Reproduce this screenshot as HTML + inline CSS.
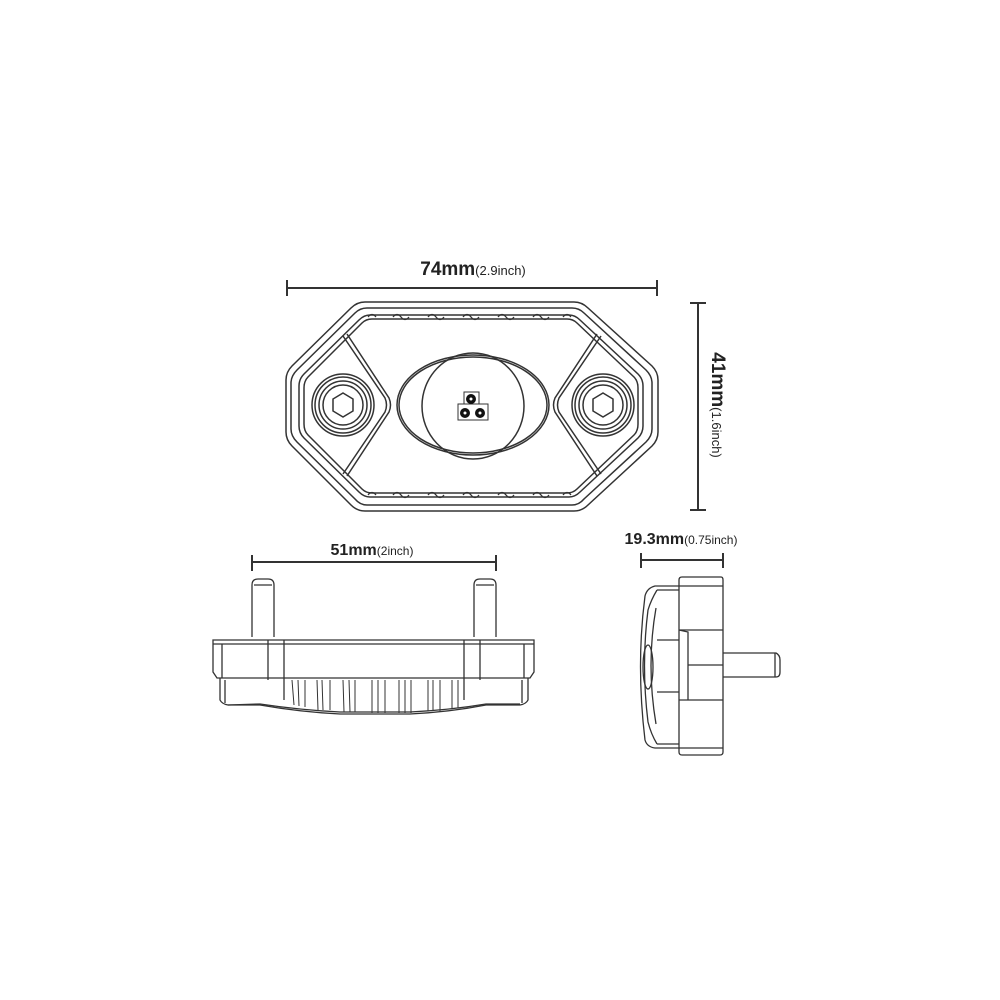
<!DOCTYPE html>
<html><head><style>
html,body{margin:0;padding:0;background:#fff;}
svg{display:block;}
text{font-family:"Liberation Sans",sans-serif;fill:#222;}
</style></head><body>
<svg width="1000" height="1000" viewBox="0 0 1000 1000" xmlns="http://www.w3.org/2000/svg">
<g fill="none" stroke="#333" stroke-width="1.5">
<!-- Top dimension -->
<line x1="287" y1="288" x2="657" y2="288" stroke-width="2"/>
<line x1="287" y1="280" x2="287" y2="296" stroke-width="2"/>
<line x1="657" y1="280" x2="657" y2="296" stroke-width="2"/>
<!-- right dimension -->
<line x1="698" y1="303" x2="698" y2="510" stroke-width="2"/>
<line x1="690" y1="303" x2="706" y2="303" stroke-width="2"/>
<line x1="690" y1="510" x2="706" y2="510" stroke-width="2"/>

<!-- Octagon outlines -->
<path d="M365,302 L574,302 Q582,302 588,308 L652,366 Q658,372 658,380 L658,432 Q658,440 652,446 L588,505 Q582,511 574,511 L365,511 Q357,511 351,505 L292,446 Q286,440 286,432 L286,380 Q286,372 292,366 L351,308 Q357,302 365,302 Z"/>
<path d="M367,308 L572,308 Q579,308 584,313 L646,370 Q652,376 652,383 L652,429 Q652,436 646,442 L584,499 Q579,505 572,505 L367,505 Q360,505 355,499 L297,442 Q291,436 291,429 L291,383 Q291,376 297,370 L355,313 Q360,308 367,308 Z"/>
<path d="M370,315 L569,315 Q575,315 580,320 L638,374 Q643,379 643,386 L643,426 Q643,433 638,438 L580,492 Q575,497 569,497 L370,497 Q364,497 359,492 L304,438 Q299,433 299,426 L299,386 Q299,379 304,374 L359,320 Q364,315 370,315 Z"/>
<path d="M372,319 L567,319 Q573,319 577,323 L634,377 Q638,381 638,388 L638,424 Q638,431 634,435 L577,489 Q573,493 567,493 L372,493 Q366,493 362,489 L308,435 Q304,431 304,424 L304,388 Q304,381 308,377 L362,323 Q366,319 372,319 Z"/>
<!-- bumps top/bottom -->
<g stroke-width="1.3">
<path d="M393,317 q4,-5 8,0 q4,5 8,0 M428,317 q4,-5 8,0 q4,5 8,0 M463,317 q4,-5 8,0 q4,5 8,0 M498,317 q4,-5 8,0 q4,5 8,0 M533,317 q4,-5 8,0 q4,5 8,0 M368,317 q4,-5 8,0 M563,317 q4,-5 8,0"/>
<path d="M393,495 q4,-5 8,0 q4,5 8,0 M428,495 q4,-5 8,0 q4,5 8,0 M463,495 q4,-5 8,0 q4,5 8,0 M498,495 q4,-5 8,0 q4,5 8,0 M533,495 q4,-5 8,0 q4,5 8,0 M368,495 q4,-5 8,0 M563,495 q4,-5 8,0"/>
</g>
<!-- diagonal ribs -->
<path d="M343,336 L385,398 Q388,405 385,412 L343,474"/>
<path d="M347,334 L389,398 Q392,405 389,412 L347,476"/>
<path d="M601,336 L559,398 Q556,405 559,412 L601,474"/>
<path d="M597,334 L555,398 Q552,405 555,412 L597,476"/>
<!-- screws -->
<circle cx="343" cy="405" r="31"/><circle cx="343" cy="405" r="28"/><circle cx="343" cy="405" r="24"/><circle cx="343" cy="405" r="20"/>
<polygon points="343,393 353,399 353,411 343,417 333,411 333,399"/>
<circle cx="603" cy="405" r="31"/><circle cx="603" cy="405" r="28"/><circle cx="603" cy="405" r="24"/><circle cx="603" cy="405" r="20"/>
<polygon points="603,393 613,399 613,411 603,417 593,411 593,399"/>
<!-- center lens -->
<ellipse cx="473" cy="405" rx="76" ry="50"/>
<ellipse cx="473" cy="405" rx="74" ry="48"/>
<ellipse cx="473" cy="406" rx="51" ry="53"/>
<rect x="464" y="392" width="15" height="12" stroke-width="1"/>
<rect x="458" y="404" width="30" height="16" stroke-width="1"/>
</g>
<g fill="#111">
<circle cx="471" cy="399" r="5"/><circle cx="465" cy="413" r="5"/><circle cx="480" cy="413" r="5"/>
</g>
<g fill="#fff"><circle cx="471" cy="399" r="1.5"/><circle cx="465" cy="413" r="1.5"/><circle cx="480" cy="413" r="1.5"/></g>

<text x="473" y="275" text-anchor="middle" font-size="19" font-weight="bold">74mm<tspan font-size="13" font-weight="normal">(2.9inch)</tspan></text>
<text transform="translate(712,405) rotate(90)" text-anchor="middle" font-size="19" font-weight="bold">41mm<tspan font-size="13" font-weight="normal">(1.6inch)</tspan></text>

<!-- side view -->
<g fill="none" stroke="#333" stroke-width="1.3">
<line x1="252" y1="562" x2="496" y2="562" stroke-width="2"/>
<line x1="252" y1="555" x2="252" y2="571" stroke-width="2"/>
<line x1="496" y1="555" x2="496" y2="571" stroke-width="2"/>
<path d="M252,637 L252,585 Q252,579 258,579 L268,579 Q274,579 274,585 L274,637"/>
<line x1="254" y1="585" x2="272" y2="585"/>
<path d="M474,637 L474,585 Q474,579 480,579 L490,579 Q496,579 496,585 L496,637"/>
<line x1="476" y1="585" x2="494" y2="585"/>
<path d="M215,640 L534,640 L534,672 L530,678 L217,678 L213,672 L213,640 Z"/>
<line x1="213" y1="644" x2="534" y2="644"/>
<line x1="222" y1="644" x2="222" y2="678"/><line x1="524" y1="644" x2="524" y2="678"/>
<line x1="268" y1="640" x2="268" y2="680"/><line x1="284" y1="640" x2="284" y2="700"/>
<line x1="464" y1="640" x2="464" y2="700"/><line x1="480" y1="640" x2="480" y2="680"/>
<path d="M220,678 L220,700 Q222,704 228,705 L260,705 Q300,712 340,714 L410,714 Q450,712 486,705 L520,705 Q526,704 528,700 L528,678"/>
<path d="M225,680 L225,703 M522,680 L522,703"/>
<path d="M228,705 L260,704 Q300,710 340,712 L410,712 Q450,710 486,704 L520,704"/>
<g stroke-width="1">
<path d="M292,680 L294,705 M298,680 L299,706 M305,680 L305,707 M317,680 L318,710 M322,680 L323,710 M330,680 L330,710 M343,680 L344,712 M349,680 L350,712 M355,680 L355,712 M372,680 L372,713 M378,680 L378,713 M385,680 L385,713 M399,680 L399,713 M405,680 L405,713 M411,680 L411,713 M428,680 L428,711 M433,680 L433,711 M440,680 L440,711 M452,680 L452,708 M458,680 L458,708"/>
</g>
</g>
<text x="372" y="555" text-anchor="middle" font-size="16" font-weight="bold">51mm<tspan font-size="12" font-weight="normal">(2inch)</tspan></text>

<!-- right side view -->
<g fill="none" stroke="#333" stroke-width="1.3">
<line x1="641" y1="560" x2="723" y2="560" stroke-width="2"/>
<line x1="641" y1="553" x2="641" y2="568" stroke-width="2"/>
<line x1="723" y1="553" x2="723" y2="568" stroke-width="2"/>
<path d="M682,577 L721,577 Q723,577 723,580 L723,752 Q723,755 720,755 L682,755 Q679,755 679,752 L679,580 Q679,577 682,577 Z"/>
<line x1="679" y1="586" x2="723" y2="586"/><line x1="679" y1="748" x2="723" y2="748"/>
<line x1="679" y1="630" x2="723" y2="630"/><line x1="679" y1="700" x2="723" y2="700"/>
<path d="M679,630 L688,632 L688,700"/><line x1="688" y1="665" x2="723" y2="665"/>
<path d="M723,653 L776,653 Q780,655 780,660 L780,672 Q780,677 776,677 L723,677"/>
<line x1="775" y1="653" x2="775" y2="677"/>
<path d="M679,586 L655,586 Q647,588 645,596 Q636,665 645,740 Q647,747 655,748 L679,748"/>
<path d="M679,590 L657,590 M679,744 L657,744"/>
<path d="M657,590 Q651,600 648,610 Q641,665 648,722 Q651,734 657,744"/>
<path d="M656,608 Q646,665 656,724"/>
<ellipse cx="648" cy="667" rx="5" ry="22"/>
<line x1="657" y1="640" x2="679" y2="640"/><line x1="657" y1="692" x2="679" y2="692"/>
</g>
<text x="681" y="544" text-anchor="middle" font-size="16" font-weight="bold">19.3mm<tspan font-size="12" font-weight="normal">(0.75inch)</tspan></text>
</svg>
</body></html>
